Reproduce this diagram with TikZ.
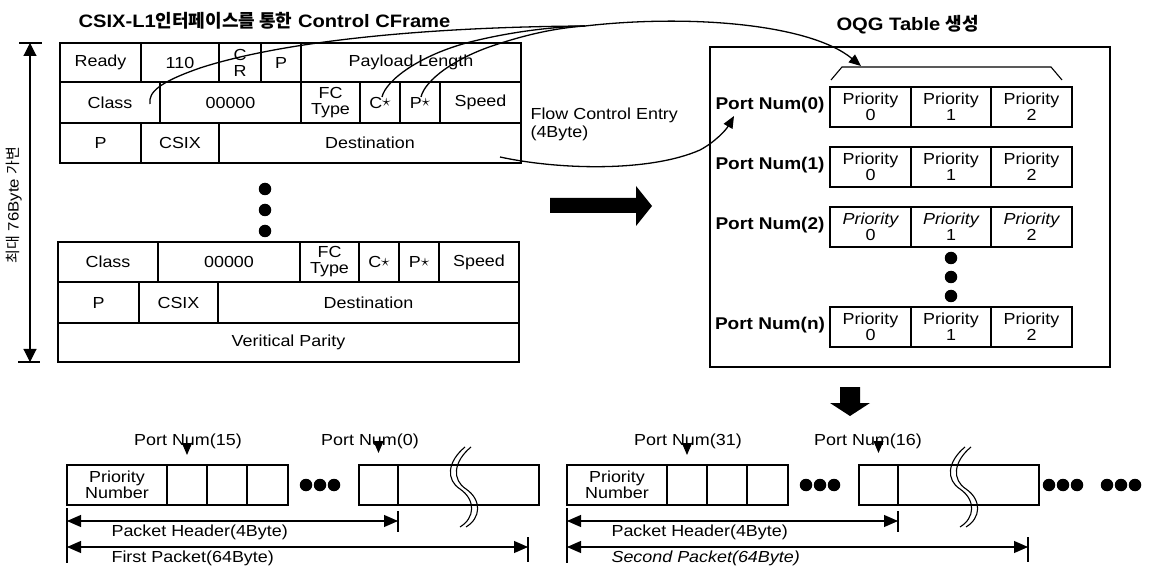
\documentclass[tikz,border=0pt]{standalone}
\usepackage{fontspec}
\setmainfont{Liberation Sans}[FakeStretch=1.12]
\newfontfamily\kr{Noto Sans CJK KR}
\usetikzlibrary{arrows.meta}
\newcommand\cellbox[7][cell]{\node[#1,minimum width={#5pt-#3pt},minimum height={#6pt-#4pt}] (#2) at ({(#3+#5)/2},{(#4+#6)/2}) {#7};}
\newcommand\stark{\raisebox{1.5pt}{$\star$}}
\begin{document}
\begin{tikzpicture}[x=1pt,y=-1pt,line width=1.1pt,
  cell/.style={draw,inner sep=0pt,outer sep=0pt,align=center,font=\fontsize{16}{16}\selectfont},
  pcell/.style={cell,font=\fontsize{16}{16}\selectfont},
  pcelli/.style={cell,font=\fontsize{16}{16}\selectfont\itshape},
  lbl/.style={inner sep=0pt,font=\fontsize{16}{18}\selectfont},
  portlbl/.style={inner sep=0pt,font=\fontsize{17}{19}\selectfont\bfseries},
  titlelbl/.style={inner sep=0pt,font=\fontsize{18}{20}\selectfont\bfseries},
  thickbox/.style={draw,line width=2.8pt},
  dot/.style={circle,fill,inner sep=0pt,minimum size=12.5pt},
  conn/.style={line width=1.3pt},
  tip/.style={-{Triangle[length=12pt,width=10pt]}},
  dimtip/.style={{Triangle[length=14pt,width=12pt]}-{Triangle[length=14pt,width=12pt]}},
  vtip/.style={{Triangle[length=13pt,width=13pt]}-{Triangle[length=13pt,width=13pt]}},
  brk/.style={line width=1.1pt},
]
\fill[white] (0,0) rectangle (1163,572);
\useasboundingbox (0,0) rectangle (1163,572);

% titles
\node[titlelbl,anchor=west] (t1) at (78,21) {CSIX-L1{\kr 인터페이스를 통한} Control CFrame};
\node[titlelbl,anchor=west] (t2) at (836,25) {OQG Table {\kr 생성}};

% left size arrow
\coordinate (vtop) at (30,43);
\coordinate (vbot) at (30,362);
\draw (19,43) -- (42,43);
\draw (18,362) -- (40,362);
\draw[vtip] (vtop) -- (vbot);
\node[lbl,rotate=90,font=\fontsize{15}{17}\selectfont] (vlab) at (14,205) {{\kr 최대} 76Byte {\kr 가변}};

% table 1
\cellbox{r1a}{60}{43}{141}{82}{Ready}
\cellbox{r1b}{141}{43}{219}{82}{110}
\cellbox{r1c}{219}{43}{261}{82}{C\\R}
\cellbox{r1d}{261}{43}{301}{82}{P}
\cellbox{r1e}{301}{43}{521}{82}{Payload Length}
\cellbox{c1a}{60}{82}{160}{123}{Class}
\cellbox{c1b}{160}{82}{301}{123}{00000}
\cellbox{c1c}{301}{82}{360}{123}{FC\\Type}
\cellbox{c1d}{360}{82}{400}{123}{C\stark}
\cellbox{c1e}{400}{82}{440}{123}{P\stark}
\cellbox{c1f}{440}{82}{521}{123}{Speed}
\cellbox{p1a}{60}{123}{141}{163}{P}
\cellbox{p1b}{141}{123}{219}{163}{CSIX}
\cellbox{p1c}{219}{123}{521}{163}{Destination}
\draw[thickbox] (60,82) rectangle (521,163);
\node[lbl,align=left,anchor=north west] (fce) at (530,107) {Flow Control Entry\\(4Byte)};

% dots
\node[dot] (d1) at (265,189) {};
\node[dot] (d2) at (265,210) {};
\node[dot] (d3) at (265,231) {};

% table 2
\cellbox{c2a}{58}{242}{158}{282}{Class}
\cellbox{c2b}{158}{242}{300}{282}{00000}
\cellbox{c2c}{300}{242}{359}{282}{FC\\Type}
\cellbox{c2d}{359}{242}{399}{282}{C\stark}
\cellbox{c2e}{399}{242}{439}{282}{P\stark}
\cellbox{c2f}{439}{242}{519}{282}{Speed}
\cellbox{p2a}{58}{282}{139}{323}{P}
\cellbox{p2b}{139}{282}{218}{323}{CSIX}
\cellbox{p2c}{218}{282}{519}{323}{Destination}
\cellbox{vp2}{58}{323}{519}{362}{Veritical Parity}
\draw[thickbox] (58,242) rectangle (519,323);

% big right arrow
\fill (550,198) -- (636,198) -- (636,186) -- (652,206) -- (636,226) -- (636,213) -- (550,213) -- cycle;

% OQG box
\draw (710,47) rectangle (1110,367);
\draw (831,80) -- (842,67) -- (1051,67) -- (1062,80);
\coordinate (brk0) at (861,66);

\node[portlbl] (pn0) at (770,105) {Port Num(0)};
\node[portlbl] (pn1) at (770,165) {Port Num(1)};
\node[portlbl] (pn2) at (770,225) {Port Num(2)};
\node[portlbl] (pnn) at (770,325) {Port Num(n)};

\cellbox[pcell]{q00}{830}{87}{911}{127}{Priority\\0}
\cellbox[pcell]{q01}{911}{87}{991}{127}{Priority\\1}
\cellbox[pcell]{q02}{991}{87}{1072}{127}{Priority\\2}
\cellbox[pcell]{q10}{830}{147}{911}{187}{Priority\\0}
\cellbox[pcell]{q11}{911}{147}{991}{187}{Priority\\1}
\cellbox[pcell]{q12}{991}{147}{1072}{187}{Priority\\2}
\cellbox[pcelli]{q20}{830}{207}{911}{247}{Priority\\\upshape 0}
\cellbox[pcelli]{q21}{911}{207}{991}{247}{Priority\\\upshape 1}
\cellbox[pcelli]{q22}{991}{207}{1072}{247}{Priority\\\upshape 2}
\cellbox[pcell]{qn0}{830}{307}{911}{347}{Priority\\0}
\cellbox[pcell]{qn1}{911}{307}{991}{347}{Priority\\1}
\cellbox[pcell]{qn2}{991}{307}{1072}{347}{Priority\\2}
\node[dot] (e1) at (951,258) {};
\node[dot] (e2) at (951,277) {};
\node[dot] (e3) at (951,296) {};

% down arrow
\fill (840,387) -- (860,387) -- (860,403) -- (870,403) -- (850,416) -- (830,403) -- (840,403) -- cycle;

% connectors
\coordinate (J) at (585,26);
\coordinate (sA) at (150,104);
\coordinate (sB) at (382,97);
\coordinate (sC) at (421,97);
\coordinate (sD) at (500,157);
\coordinate (eD) at (734,116);
\draw[conn] (sA) .. controls (148,92) and (160,82) .. (200,68) .. controls (280,42) and (420,27) .. (J);
\draw[conn] (sB) .. controls (386,80) and (420,55) .. (470,42) .. controls (510,32) and (550,27) .. (J);
\draw[conn] (sC) .. controls (425,80) and (455,58) .. (495,45) .. controls (525,35) and (555,28) .. (J);
\draw[conn,tip] (J) .. controls (690,14) and (810,24) .. (brk0);
\draw[conn,tip] (sD) .. controls (560,170) and (650,172) .. (700,150) .. controls (715,142) and (726,130) .. (eD);

% packet 1
\cellbox[pcell]{a1}{67}{465}{167}{505}{Priority\\Number}
\cellbox{a2}{167}{465}{207}{505}{}
\cellbox{a3}{207}{465}{247}{505}{}
\cellbox{a4}{247}{465}{288}{505}{}
\node[dot] (ad1) at (306,485) {};
\node[dot] (ad2) at (320,485) {};
\node[dot] (ad3) at (334,485) {};
\cellbox{a5}{359}{465}{398}{505}{}
\cellbox{a6}{398}{465}{539}{505}{}
\node[lbl] (ap15) at (188,441) {Port Num(15)};
\node[lbl] (ap0) at (370,441) {Port Num(0)};
\draw[tip] (ap15.south -| a2) -- ([yshift=10pt]a2.north);
\draw[tip] (ap0.south -| a5) -- ([yshift=12pt]a5.north);
\draw[brk] (471,447) .. controls (453,462) and (452,480) .. (466,489) .. controls (482,500) and (481,518) .. (466,527);
\draw[brk] (465,447) .. controls (447,462) and (446,480) .. (460,489) .. controls (476,500) and (475,518) .. (460,527);
\coordinate (ph1s) at (67,521);
\coordinate (ph1e) at (398,521);
\coordinate (fp1s) at (67,547);
\coordinate (fp1e) at (528,547);
\draw (67,508) -- (67,563);
\draw (398,511) -- (398,532);
\draw (528,537) -- (528,562);
\draw[dimtip] (ph1s) -- (ph1e);
\draw[dimtip] (fp1s) -- (fp1e);
\node[lbl,anchor=west] (ph1t) at (111,532) {Packet Header(4Byte)};
\node[lbl,anchor=west] (fp1t) at (111,558) {First Packet(64Byte)};

% packet 2
\cellbox[pcell]{b1}{567}{465}{667}{505}{Priority\\Number}
\cellbox{b2}{667}{465}{707}{505}{}
\cellbox{b3}{707}{465}{747}{505}{}
\cellbox{b4}{747}{465}{788}{505}{}
\node[dot] (bd1) at (806,485) {};
\node[dot] (bd2) at (820,485) {};
\node[dot] (bd3) at (834,485) {};
\cellbox{b5}{859}{465}{898}{505}{}
\cellbox{b6}{898}{465}{1039}{505}{}
\node[lbl] (bp31) at (688,441) {Port Num(31)};
\node[lbl] (bp16) at (868,441) {Port Num(16)};
\draw[tip] (bp31.south -| b2) -- ([yshift=10pt]b2.north);
\draw[tip] (bp16.south -| b5) -- ([yshift=12pt]b5.north);
\draw[brk] (971,447) .. controls (953,462) and (952,480) .. (966,489) .. controls (982,500) and (981,518) .. (966,527);
\draw[brk] (965,447) .. controls (947,462) and (946,480) .. (960,489) .. controls (976,500) and (975,518) .. (960,527);
\coordinate (ph2s) at (567,521);
\coordinate (ph2e) at (898,521);
\coordinate (fp2s) at (567,547);
\coordinate (fp2e) at (1028,547);
\draw (567,508) -- (567,563);
\draw (898,511) -- (898,532);
\draw (1028,537) -- (1028,562);
\draw[dimtip] (ph2s) -- (ph2e);
\draw[dimtip] (fp2s) -- (fp2e);
\node[lbl,anchor=west] (ph2t) at (611,532) {Packet Header(4Byte)};
\node[lbl,anchor=west,font=\fontsize{16}{18}\selectfont\itshape] (fp2t) at (611,558) {Second Packet(64Byte)};

% trailing dots
\foreach \i/\xx in {1/1049,2/1063,3/1077,4/1107,5/1121,6/1135}{\node[dot] (fd\i) at (\xx,485) {};}
\end{tikzpicture}
\end{document}
